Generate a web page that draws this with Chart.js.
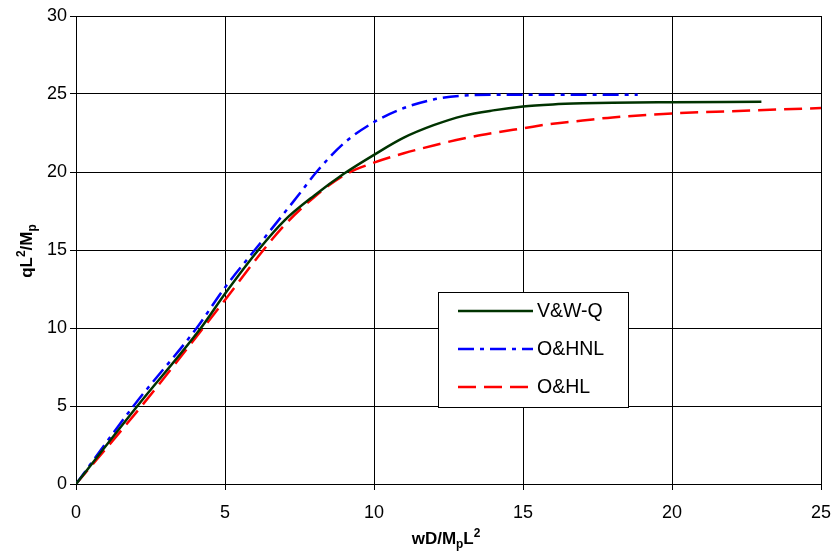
<!DOCTYPE html>
<html lang="en">
<head>
    <meta charset="UTF-8">
    <title>Load - deflection curves</title>
    <script src="https://cdn.jsdelivr.net/npm/chart.js"></script>
    <style>
        body { margin: 0; background: #fff; }
        #wrap { width: 833px; height: 551px; }
    </style>
</head>
<body>
    <div id="wrap"><canvas id="loadChart" width="833" height="551"></canvas></div>

    <script>
        // V&W-Q
        const vwqX = [0, 2.06, 4.19, 5, 6.12, 7, 8, 9, 10, 11, 12, 13, 14, 15, 16, 17, 18, 20, 23];
        const vwqY = [0, 5, 10, 12.2, 15, 16.9, 18.5, 19.9, 21.1, 22.2, 23.0, 23.6, 23.95, 24.2, 24.33, 24.4, 24.44, 24.47, 24.5];
        // O&HNL
        const ohnlX = [0, 1.93, 4.05, 5, 6, 7, 7.5, 8.07, 9, 10, 11, 12, 13, 14, 15, 16, 17, 18, 18.85];
        const ohnlY = [0, 5, 10, 12.6, 15, 17.4, 18.6, 20, 21.86, 23.2, 24.1, 24.65, 24.9, 24.95, 24.95, 24.95, 24.95, 24.95, 24.95];
        // O&HL
        const ohlX = [0, 2.2, 4.27, 5, 6.29, 7, 8, 9, 10, 11, 12, 13, 14, 15, 16, 17, 18, 20, 22, 25];
        const ohlY = [0, 5, 10, 11.8, 15, 16.6, 18.4, 19.8, 20.6, 21.2, 21.7, 22.15, 22.5, 22.8, 23.1, 23.3, 23.5, 23.75, 23.9, 24.1];

        const xTicks = [0, 5, 10, 15, 20, 25];
        const yTicks = [0, 5, 10, 15, 20, 25, 30];

        const FONT = '"Liberation Sans", Arial, sans-serif';

        function pts(xs, ys) {
            return xs.map((x, i) => ({ x: x, y: ys[i] }));
        }

        // draws a string made of pieces, some raised or lowered
        function richText(ctx, parts, size) {
            let w = 0;
            parts.forEach(p => {
                ctx.font = 'bold ' + (p.s ? size * 0.7 : size) + 'px ' + FONT;
                w += ctx.measureText(p.t).width;
            });
            let x = -w / 2;
            parts.forEach(p => {
                const sz = p.s ? size * 0.7 : size;
                ctx.font = 'bold ' + sz + 'px ' + FONT;
                let dy = 0;
                if (p.s === 'sup') dy = -size * 0.4;
                if (p.s === 'sub') dy = size * 0.22;
                ctx.fillText(p.t, x, dy);
                x += ctx.measureText(p.t).width;
            });
        }

        const decorations = {
            id: 'decorations',
            afterDraw(chart) {
                const ctx = chart.ctx;
                ctx.save();
                ctx.fillStyle = '#000';
                ctx.textBaseline = 'alphabetic';
                ctx.textAlign = 'left';

                // x axis title
                ctx.save();
                ctx.translate(446, 544);
                richText(ctx, [{ t: 'wD/M' }, { t: 'p', s: 'sub' }, { t: 'L' }, { t: '2', s: 'sup' }], 17);
                ctx.restore();

                // y axis title
                ctx.save();
                ctx.translate(32, 251);
                ctx.rotate(-Math.PI / 2);
                richText(ctx, [{ t: 'qL' }, { t: '2', s: 'sup' }, { t: '/M' }, { t: 'p', s: 'sub' }], 17);
                ctx.restore();

                // legend box
                const bx = 438, by = 292, bw = 190, bh = 115;
                ctx.fillStyle = '#fff';
                ctx.fillRect(bx, by, bw, bh);
                ctx.strokeStyle = '#000';
                ctx.lineWidth = 1;
                ctx.strokeRect(bx + 0.5, by + 0.5, bw, bh);

                ctx.font = '19.5px ' + FONT;
                ctx.textBaseline = 'middle';
                chart.data.datasets.forEach((ds, i) => {
                    const y = 311 + i * 38;
                    ctx.beginPath();
                    ctx.setLineDash(ds.borderDash || []);
                    ctx.strokeStyle = ds.borderColor;
                    ctx.lineWidth = ds.borderWidth;
                    ctx.moveTo(458, y);
                    ctx.lineTo(533, y);
                    ctx.stroke();
                    ctx.setLineDash([]);
                    ctx.fillStyle = '#000';
                    ctx.fillText(ds.label, 537, y + 1);
                });
                ctx.restore();
            }
        };

        const ctx = document.getElementById('loadChart').getContext('2d');
        new Chart(ctx, {
            type: 'scatter',
            data: {
                datasets: [
                    { label: 'V&W-Q', data: pts(vwqX, vwqY), borderColor: '#003300', borderWidth: 2.5 },
                    { label: 'O&HNL', data: pts(ohnlX, ohnlY), borderColor: '#0000ff', borderWidth: 2.5, borderDash: [16, 6, 4, 6] },
                    { label: 'O&HL', data: pts(ohlX, ohlY), borderColor: '#ff0000', borderWidth: 2.5, borderDash: [18, 8] }
                ]
            },
            options: {
                responsive: false,
                animation: false,
                devicePixelRatio: 1,
                showLine: true,
                elements: {
                    point: { radius: 0 },
                    line: { cubicInterpolationMode: 'monotone', fill: false }
                },
                layout: { padding: { left: 0, top: 16, right: 12, bottom: 0 } },
                plugins: {
                    legend: { display: false },
                    tooltip: { enabled: false }
                },
                scales: {
                    x: {
                        type: 'linear',
                        min: 0, max: 25,
                        afterBuildTicks: s => { s.ticks = xTicks.map(v => ({ value: v })); },
                        afterFit: s => { s.height = 67; s.paddingLeft = 0; s.paddingRight = 0; },
                        grid: { color: '#000', lineWidth: 1, tickLength: 6 },
                        border: { color: '#000' },
                        ticks: { color: '#000', font: { family: FONT, size: 18 }, padding: 12, maxRotation: 0 }
                    },
                    y: {
                        type: 'linear',
                        min: 0, max: 30,
                        afterBuildTicks: s => { s.ticks = yTicks.map(v => ({ value: v })); },
                        afterFit: s => { s.width = 76; s.paddingTop = 0; s.paddingBottom = 0; },
                        grid: { color: '#000', lineWidth: 1, tickLength: 6 },
                        border: { color: '#000' },
                        ticks: { color: '#000', font: { family: FONT, size: 18 }, padding: 3 }
                    }
                }
            },
            plugins: [decorations]
        });
    </script>
</body>
</html>
